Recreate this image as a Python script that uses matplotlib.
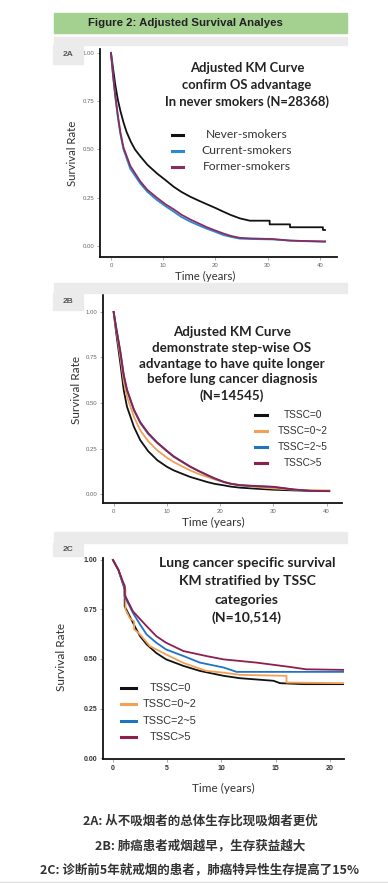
import matplotlib
matplotlib.use('Agg')
import matplotlib.pyplot as plt
from matplotlib.patches import Rectangle

W, H = 388, 883

# ---- data ----
title = 'Figure 2: Adjusted Survival Analyes'

# 2A: overall survival by smoking status
a_labels = ['Never-smokers', 'Current-smokers', 'Former-smokers']
a_t_never = [0, 0.4, 0.8, 1.3, 1.8, 2.4, 3, 3.8, 4.6, 5.6, 7, 8.8, 10.5, 12, 13.5, 15.2,
             16.8, 18.3, 20, 21.5, 23, 24.7, 26.6, 30.4, 30.4, 34.3, 34.3, 40.6, 40.6, 41]
a_s_never = [1, 0.92, 0.84, 0.76, 0.70, 0.64, 0.59, 0.54, 0.50, 0.465, 0.42, 0.376, 0.34,
             0.307, 0.28, 0.255, 0.235, 0.217, 0.197, 0.178, 0.16, 0.143, 0.131, 0.131,
             0.112, 0.112, 0.097, 0.097, 0.083, 0.083]
a_t_curr = [0, 0.4, 0.8, 1.3, 1.8, 2.4, 3.7, 5.6, 7, 8.8, 10.5, 12, 13.5, 15.2, 16.8, 18.3,
            20, 21.5, 23, 24.7, 27, 31, 34.3, 37, 40.6, 41]
a_s_curr = [1, 0.88, 0.78, 0.67, 0.58, 0.50, 0.40, 0.324, 0.28, 0.238, 0.205, 0.178, 0.15,
            0.126, 0.107, 0.09, 0.073, 0.057, 0.047, 0.038, 0.036, 0.034, 0.028, 0.025,
            0.022, 0.022]
a_t_form = [0, 0.4, 0.8, 1.3, 1.8, 2.4, 3.7, 5.6, 7, 8.8, 10.5, 12, 13.5, 15.2, 16.8, 18.3,
            20, 21.5, 23, 24.7, 27, 31, 34.3, 37, 40.6, 41]
a_s_form = [1, 0.885, 0.785, 0.68, 0.59, 0.51, 0.415, 0.335, 0.29, 0.25, 0.215, 0.19, 0.162,
            0.137, 0.117, 0.098, 0.08, 0.065, 0.052, 0.042, 0.039, 0.036, 0.028, 0.026,
            0.024, 0.024]

# 2B: overall survival by TSSC category
b_labels = ['TSSC=0', 'TSSC=0~2', 'TSSC=2~5', 'TSSC>5']
b_t = [0, 0.5, 1.25, 1.9, 2.5, 3.8, 5, 6.5, 8.2, 10, 11.3, 13, 14.4, 16, 17.6, 19,
       20.7, 22, 23.8, 27, 30, 34, 37, 40.5]
b_s_0 = [1, 0.88, 0.72, 0.57, 0.48, 0.37, 0.296, 0.235, 0.186, 0.15, 0.13, 0.11, 0.094,
         0.08, 0.066, 0.056, 0.048, 0.041, 0.035, 0.029, 0.024, 0.02, 0.018, 0.017]
b_s_02 = [1, 0.9, 0.755, 0.62, 0.535, 0.425, 0.35, 0.29, 0.24, 0.2, 0.176, 0.15, 0.13,
          0.11, 0.094, 0.08, 0.066, 0.057, 0.048, 0.038, 0.031, 0.024, 0.021, 0.02]
b_s_25 = [1, 0.91, 0.78, 0.65, 0.57, 0.46, 0.39, 0.33, 0.28, 0.235, 0.204, 0.174, 0.149,
          0.125, 0.103, 0.085, 0.066, 0.056, 0.048, 0.043, 0.039, 0.024, 0.017, 0.016]
b_s_5 = [1, 0.91, 0.785, 0.655, 0.575, 0.465, 0.395, 0.335, 0.283, 0.238, 0.207, 0.176,
         0.151, 0.127, 0.105, 0.086, 0.067, 0.057, 0.049, 0.044, 0.04, 0.025, 0.018, 0.016]

# 2C: lung cancer specific survival by TSSC category
c_t_0 = [0, 0.5, 0.92, 1.08, 1.08, 1.54, 2.15, 2.5, 3.1, 4, 4.9, 6.5, 8, 10.2, 11.7,
         14.8, 15.4, 17.5, 21.3]
c_s_0 = [1, 0.95, 0.88, 0.85, 0.766, 0.716, 0.65, 0.615, 0.574, 0.53, 0.498, 0.465,
         0.44, 0.415, 0.403, 0.39, 0.378, 0.373, 0.373]
c_t_02 = [0, 0.5, 0.92, 1.15, 1.15, 1.54, 1.95, 1.95, 2.5, 3.4, 4.9, 6.5, 8.6, 10.2,
          11.7, 16, 16, 21.3]
c_s_02 = [1, 0.95, 0.88, 0.85, 0.75, 0.707, 0.69, 0.65, 0.624, 0.565, 0.523, 0.48,
          0.44, 0.431, 0.42, 0.415, 0.381, 0.378]
c_t_25 = [0, 0.5, 0.92, 1.08, 1.08, 1.85, 2.5, 3.1, 4, 4.9, 6.5, 8, 10.2, 11.4, 21.3]
c_s_25 = [1, 0.95, 0.88, 0.86, 0.816, 0.732, 0.674, 0.624, 0.582, 0.548, 0.515, 0.482,
          0.457, 0.435, 0.435]
c_t_5 = [0, 0.5, 0.92, 1.08, 1.08, 1.85, 3.1, 4, 4.9, 6.5, 8.6, 10.2, 13.2, 16.3, 17.8,
         21.3]
c_s_5 = [1, 0.95, 0.89, 0.87, 0.824, 0.74, 0.666, 0.615, 0.582, 0.54, 0.515, 0.498,
         0.482, 0.46, 0.448, 0.445]

notes = ['2A: 从不吸烟者的总体生存比现吸烟者更优',
         '2B: 肺癌患者戒烟越早，生存获益越大',
         '2C: 诊断前5年就戒烟的患者，肺癌特异性生存提高了15%']

BLACK = '#111111'
BLUE = '#2a8ad8'
PURPLE = '#8a2c5c'
ORANGE = '#f2a055'
BLUE2 = '#1f74c4'
MAROON = '#8e1f4c'


def fx(x):
    return x / W


def fy(y):
    return 1 - y / H


def box(x0, y0, x1, y1):
    return [fx(x0), fy(y1), fx(x1) - fx(x0), fy(y0) - fy(y1)]


fig = plt.figure(figsize=(W / 100, H / 100), dpi=100)
fig.patch.set_facecolor('white')

# header band
fig.patches.append(Rectangle((fx(54), fy(33)), fx(347) - fx(54), fy(13) - fy(33),
                             transform=fig.transFigure, color='#a4d190', zorder=0))
fig.text(fx(185), fy(23), title, ha='center', va='center', fontsize=8.2,
         fontweight='bold', family='Liberation Sans', color='#222222')

# panel bands and labels
for band_top, band_bot, lab_bot, lab in [(37, 45, 64, '2A'), (283, 293, 310, '2B'),
                                         (532, 543, 556, '2C')]:
    fig.patches.append(Rectangle((fx(54), fy(band_bot)), fx(347) - fx(54),
                                 fy(band_top) - fy(band_bot), transform=fig.transFigure,
                                 color='#ebebeb', zorder=0))
    fig.patches.append(Rectangle((fx(53), fy(lab_bot)), fx(83) - fx(53),
                                 fy(band_bot) - fy(lab_bot), transform=fig.transFigure,
                                 color='#ebebeb', zorder=0))
    fig.text(fx(68), fy((band_bot + lab_bot) / 2), lab, ha='center', va='center',
             fontsize=6, fontweight='bold', family='Liberation Sans', color='#555555')


def style(ax, xticks, yticks, tick_size=4.3, tick_color='#666666', bold=False):
    for s in ['top', 'right']:
        ax.spines[s].set_visible(False)
    for s in ['left', 'bottom']:
        ax.spines[s].set_linewidth(1.3)
        ax.spines[s].set_color('#111111')
    ax.set_facecolor('none')
    ax.set_xticks(xticks)
    ax.set_yticks(yticks)
    ax.set_yticklabels(['%.2f' % v for v in yticks])
    ax.tick_params(length=2, width=0.5, color='#888888', labelsize=tick_size,
                   labelcolor=tick_color, pad=2)
    for lbl in ax.get_xticklabels() + ax.get_yticklabels():
        lbl.set_family('Liberation Sans')
        if bold:
            lbl.set_fontweight('bold')


# ---- 2A ----
ax = fig.add_axes(box(100, 49, 337, 257))
ax.plot(a_t_never, a_s_never, color=BLACK, lw=1.3)
ax.plot(a_t_curr, a_s_curr, color=BLUE, lw=1.3)
ax.plot(a_t_form, a_s_form, color=PURPLE, lw=1.3)
ax.set_xlim(-2.1, 43.3)
ax.set_ylim(-0.057, 1.02)
style(ax, [0, 10, 20, 30, 40], [0, 0.25, 0.5, 0.75, 1.0])
for i, line in enumerate(['Adjusted KM Curve', 'confirm OS advantage',
                          'In never smokers (N=28368)']):
    fig.text(fx(247), fy(68 + 17 * i), line, ha='center', va='center', fontsize=9.4,
             fontweight='bold', family='Lato', color='#222222')
for i, (lab, col) in enumerate(zip(a_labels, [BLACK, BLUE, PURPLE])):
    yy = 135 + 16 * i
    fig.lines.append(plt.Line2D([fx(172), fx(183)], [fy(yy), fy(yy)], color=col, lw=2.2,
                                transform=fig.transFigure))
    fig.text(fx(247), fy(yy), lab, ha='center', va='center', fontsize=8.7,
             family='Lato', color='#333333')
fig.text(fx(73), fy(153), 'Survival Rate', rotation=90, ha='center', va='center',
         fontsize=8.2, family='Lato', color='#333333')
fig.text(fx(205), fy(276), 'Time (years)', ha='center', va='center', fontsize=8.2,
         family='Lato', color='#333333')

# ---- 2B ----
ax = fig.add_axes(box(103, 295, 342, 503))
for s, col in zip([b_s_0, b_s_02, b_s_25, b_s_5], [BLACK, ORANGE, BLUE2, MAROON]):
    ax.plot(b_t, s, color=col, lw=1.3)
ax.set_xlim(-2.0, 42.9)
ax.set_ylim(-0.049, 1.093)
style(ax, [0, 10, 20, 30, 40], [0, 0.25, 0.5, 0.75, 1.0])
for i, line in enumerate(['Adjusted KM Curve', 'demonstrate step-wise OS',
                          'advantage to have quite longer',
                          'before lung cancer diagnosis', '(N=14545)']):
    fig.text(fx(232), fy(332 + 15.8 * i), line, ha='center', va='center', fontsize=9.6,
             fontweight='bold', family='Lato', color='#222222')
for i, (lab, col) in enumerate(zip(b_labels, [BLACK, ORANGE, BLUE2, MAROON])):
    yy = 415 + 16 * i
    fig.lines.append(plt.Line2D([fx(255), fx(267)], [fy(yy), fy(yy)], color=col, lw=2.2,
                                transform=fig.transFigure))
    fig.text(fx(303), fy(yy), lab, ha='center', va='center', fontsize=7.3,
             family='Liberation Sans', color='#333333')
fig.text(fx(77), fy(390), 'Survival Rate', rotation=90, ha='center', va='center',
         fontsize=8.5, family='Lato', color='#333333')
fig.text(fx(213), fy(522), 'Time (years)', ha='center', va='center', fontsize=8.5,
         family='Lato', color='#333333')

# ---- 2C ----
ax = fig.add_axes(box(103, 558, 344, 759))
ax.plot(c_t_0, c_s_0, color=BLACK, lw=1.3)
ax.plot(c_t_02, c_s_02, color=ORANGE, lw=1.3)
ax.plot(c_t_25, c_s_25, color=BLUE2, lw=1.3)
ax.plot(c_t_5, c_s_5, color=MAROON, lw=1.3)
ax.set_xlim(-0.92, 21.3)
ax.set_ylim(-0.005, 1.01)
style(ax, [0, 5, 10, 15, 20], [0, 0.25, 0.5, 0.75, 1.0], tick_size=5,
      tick_color='#333333', bold=True)
for i, line in enumerate(['Lung cancer specific survival', 'KM stratified by TSSC',
                          'categories', '(N=10,514)']):
    fig.text(fx(247), fy(563 + 18.3 * i), line, ha='center', va='center', fontsize=10,
             fontweight='bold', family='Lato', color='#222222')
for i, (lab, col) in enumerate(zip(b_labels, [BLACK, ORANGE, BLUE2, MAROON])):
    yy = 688 + 16.3 * i
    fig.lines.append(plt.Line2D([fx(121), fx(136)], [fy(yy), fy(yy)], color=col, lw=2.2,
                                transform=fig.transFigure))
    fig.text(fx(170), fy(yy), lab, ha='center', va='center', fontsize=7.8,
             family='Liberation Sans', color='#333333')
fig.text(fx(62), fy(657), 'Survival Rate', rotation=90, ha='center', va='center',
         fontsize=8.5, family='Lato', color='#333333')
fig.text(fx(223), fy(788), 'Time (years)', ha='center', va='center', fontsize=8.5,
         family='Lato', color='#333333')

# ---- notes ----
for i, note in enumerate(notes):
    fig.text(fx(200), fy(821 + 24.5 * i), note, ha='center', va='center', fontsize=9,
             fontweight='bold', family=['Noto Sans CJK SC', 'DejaVu Sans'],
             color='#333333')
fig.lines.append(plt.Line2D([0, 1], [fy(881.5), fy(881.5)], color='#dddddd', lw=1,
                            transform=fig.transFigure))

fig.savefig('out.png', dpi=100, facecolor='white')
